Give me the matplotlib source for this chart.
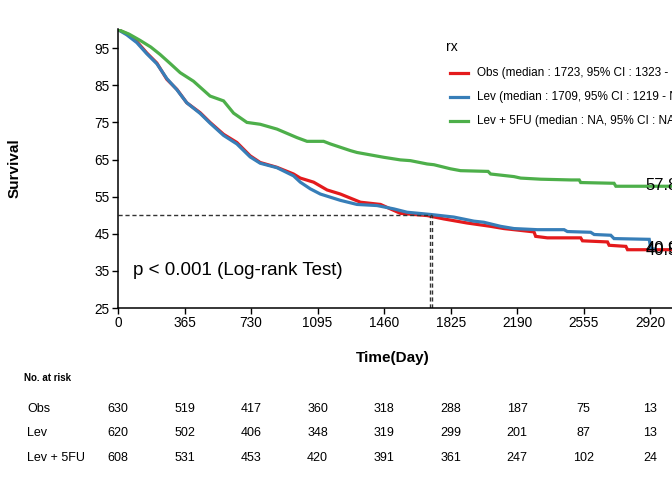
import matplotlib
matplotlib.use("Agg")
import matplotlib.pyplot as plt
from matplotlib.lines import Line2D
from matplotlib.transforms import blended_transform_factory

plt.rcParams['font.family'] = ['Liberation Sans', 'DejaVu Sans']

# Kaplan-Meier curves (day, survival %)
obs_time = [0, 48, 103, 158, 213, 268, 323, 377, 451, 505, 579, 652, 725, 780, 872,
            963, 1000, 1073, 1147, 1220, 1330, 1440, 1549, 1696, 1787, 1915, 2044,
            2117, 2282, 2291, 2355, 2538, 2548, 2685, 2694, 2786, 2795, 3200]
obs_surv = [100, 98.9, 96.8, 93.7, 91.0, 86.6, 83.9, 80.3, 77.6, 75.0, 71.8, 69.6, 66.0, 64.2, 62.9,
            61.1, 60.0, 58.9, 56.8, 55.7, 53.5, 52.9, 50.5, 49.9, 49.0, 47.9, 47.0,
            46.4, 45.5, 44.3, 43.9, 43.9, 43.1, 42.8, 41.9, 41.6, 40.7, 40.7]

lev_time = [0, 48, 103, 158, 213, 268, 323, 377, 451, 505, 579, 652, 725, 780, 872,
            963, 1000, 1055, 1110, 1220, 1311, 1421, 1513, 1586, 1714, 1842, 1952, 2007,
            2099, 2172, 2300, 2447, 2465, 2593, 2612, 2703, 2721, 2914, 2923, 2945]
lev_surv = [100, 98.6, 96.5, 93.5, 90.8, 86.8, 83.8, 80.3, 77.4, 74.8, 71.5, 69.2, 65.7, 64.0, 62.8,
            60.6, 58.9, 57.1, 55.7, 54.0, 52.9, 52.6, 51.7, 50.8, 50.2, 49.5, 48.4, 48.1,
            47.0, 46.4, 46.1, 46.1, 45.6, 45.4, 44.8, 44.6, 43.7, 43.5, 40.9, 40.9]

lev5fu_time = [0, 60, 121, 180, 231, 290, 341, 414, 505, 579, 634, 707, 780, 872, 982,
               1037, 1128, 1165, 1275, 1311, 1458, 1549, 1604, 1696, 1733, 1824, 1879,
               2030, 2044, 2172, 2209, 2319, 2484, 2530, 2538, 2721, 2731, 3200]
lev5fu_surv = [100, 98.8, 97.1, 95.3, 93.3, 90.7, 88.4, 86.1, 82.1, 80.8, 77.5, 75.0, 74.5, 73.2, 70.9,
               69.9, 69.9, 69.2, 67.4, 66.9, 65.6, 64.9, 64.7, 63.8, 63.6, 62.5, 62.0,
               61.8, 61.1, 60.4, 60.0, 59.7, 59.5, 59.5, 58.8, 58.6, 57.8, 57.8]

groups = ["Obs", "Lev", "Lev + 5FU"]
colors = ["#E41A1C", "#377EB8", "#4DAF4A"]
legend_labels = ["Obs (median : 1723, 95% CI : 1323 - NA)",
                 "Lev (median : 1709, 95% CI : 1219 - NA)",
                 "Lev + 5FU (median : NA, 95% CI : NA - NA)"]
medians = [1723, 1709]
end_labels = ["40.5", "40.9", "57.8"]
end_label_y = [40.6, 40.9, 57.9]

risk_times = [0, 365, 730, 1095, 1460, 1825, 2190, 2555, 2920]
risk_obs = [630, 519, 417, 360, 318, 288, 187, 75, 13]
risk_lev = [620, 502, 406, 348, 319, 299, 201, 87, 13]
risk_lev5fu = [608, 531, 453, 420, 391, 361, 247, 102, 24]

W, H = 672, 480
fig = plt.figure(figsize=(W / 100, H / 100), dpi=100)
ax = fig.add_axes([118 / W, (H - 308) / H, (705 - 118) / W, (308 - 28.5) / H])
xmax = (705 - 118) / 0.1823

curves = [(obs_time, obs_surv), (lev_time, lev_surv), (lev5fu_time, lev5fu_surv)]
for (t, s), c in zip(curves, colors):
    ax.plot(t, s, color=c, lw=2.3, solid_joinstyle='miter', solid_capstyle='butt')

# median lines
ax.hlines(50, 0, max(medians), colors="#333333", linestyles=(0, (3, 2)), lw=1)
ax.vlines(medians, 25, 50, colors="#333333", linestyles=(0, (3, 2)), lw=1)

ax.set_xlim(0, xmax)
ax.set_ylim(25, 100.3)
ax.set_xticks(risk_times)
ax.set_yticks([25, 35, 45, 55, 65, 75, 85, 95])
for sp in ["top", "right"]:
    ax.spines[sp].set_visible(False)
for sp in ["left", "bottom"]:
    ax.spines[sp].set_linewidth(1.1)
ax.tick_params(direction="out", length=4, width=1, labelsize=9.8, colors="black", pad=2)

ax.text(82, 35, "p < 0.001 (Log-rank Test)", fontsize=13.5, va="center", ha="left")
for lab, yv in zip(end_labels, end_label_y):
    ax.text(2895, yv, lab, fontsize=12, va="center", ha="left", clip_on=False)

fig.text(15 / W, 1 - 168 / H, "Survival", rotation=90, fontsize=11, fontweight="bold",
         ha="center", va="center")
fig.text(393 / W, 1 - 358 / H, "Time(Day)", fontsize=11, fontweight="bold",
         ha="center", va="center")

# legend drawn by hand so it runs off the edge like the reference
fig.text(446 / W, 1 - 47 / H, "rx", fontsize=10, ha="left", va="center")
for i, (lab, c) in enumerate(zip(legend_labels, colors)):
    yy = 1 - (73 + i * 24) / H
    fig.add_artist(Line2D([450 / W, 468 / W], [yy, yy], color=c, lw=2.3,
                          transform=fig.transFigure))
    fig.text(477 / W, yy, lab, fontsize=8.5, ha="left", va="center")

# risk table
trans = blended_transform_factory(ax.transData, fig.transFigure)
fig.text(24 / W, 1 - 378 / H, "No. at risk", fontsize=7, fontweight="bold",
         ha="left", va="center")
rows = [risk_obs, risk_lev, risk_lev5fu]
for i, (g, vals) in enumerate(zip(groups, rows)):
    yy = 1 - (409 + i * 24.5) / H
    fig.text(27 / W, yy, g, fontsize=9, ha="left", va="center")
    for t, v in zip(risk_times, vals):
        ax.text(t, yy, str(v), fontsize=9, ha="center", va="center",
                transform=trans, clip_on=False)

fig.savefig("out.png", dpi=100)
